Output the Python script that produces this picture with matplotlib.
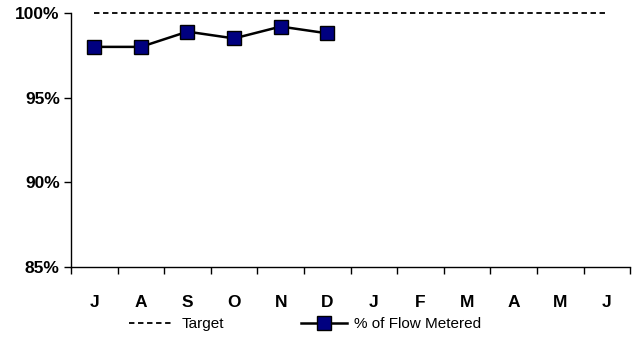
import matplotlib.pyplot as plt
from matplotlib.ticker import MultipleLocator, FuncFormatter

months = ["J", "A", "S", "O", "N", "D", "J", "F", "M", "A", "M", "J"]
target = [100] * 12
flow_metered = [98.0, 98.0, 98.9, 98.5, 99.2, 98.8]

plt.rcParams['font.family'] = ['Liberation Sans', 'DejaVu Sans']

fig = plt.figure(figsize=(6.32, 3.38), dpi=100)
ax = fig.add_axes([0.1123, 0.21, 0.885, 0.7515])

x_all = list(range(len(months)))
ax.plot(x_all, target, color="black", linestyle=(0, (3, 2)), linewidth=1.3, label="Target")
ax.plot(x_all[:len(flow_metered)], flow_metered, color="black", linewidth=1.8,
        marker="s", markersize=10, markerfacecolor="#000080", markeredgecolor="black",
        markeredgewidth=1.0, label="% of Flow Metered")

ax.set_xlim(-0.5, len(months) - 0.5)
ax.set_ylim(85, 100)
ax.yaxis.set_major_locator(MultipleLocator(5))
ax.yaxis.set_major_formatter(FuncFormatter(lambda v, p: f"{v:.0f}%"))

ax.set_xticks(x_all)
ax.set_xticklabels(months, fontweight="bold", fontsize=12.5)
ax.set_xticks([i - 0.5 for i in range(len(months) + 1)], minor=True)
ax.tick_params(axis="x", which="major", length=0, pad=20)
ax.tick_params(axis="x", which="minor", length=5, width=1, direction="out")
ax.tick_params(axis="y", length=5, width=1, direction="out", labelsize=12.5, pad=3)
for lab in ax.get_yticklabels():
    lab.set_fontweight("bold")

for side in ["top", "right"]:
    ax.spines[side].set_visible(False)
for side in ["left", "bottom"]:
    ax.spines[side].set_linewidth(1.0)
for line in ax.lines:
    line.set_clip_on(False)

fig.legend(loc="lower center", bbox_to_anchor=(0.4826, -0.02), ncol=2, frameon=False,
           fontsize=11, handlelength=3.0, columnspacing=5.0, handletextpad=0.5)

fig.savefig("out.png", dpi=100)
